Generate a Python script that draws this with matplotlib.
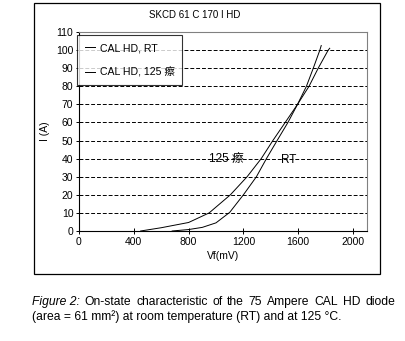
import matplotlib
matplotlib.use("Agg")
import matplotlib.pyplot as plt
from matplotlib.patches import Rectangle

plt.rcParams['font.family'] = ['Liberation Sans', 'Noto Sans CJK SC']

# on-state curves
vf_rt = [680, 800, 900, 1000, 1100, 1200, 1295, 1368, 1446, 1525, 1595, 1660, 1710, 1758, 1768]
i_rt = [0, 0.8, 2, 4.5, 10.3, 20, 30, 40, 50, 60, 70, 80, 90, 100, 102.5]

vf_125 = [450, 600, 800, 950, 1105, 1227, 1330, 1415, 1505, 1595, 1679, 1746, 1819, 1830]
i_125 = [0, 1.8, 4.7, 10, 20, 30, 40, 50, 60, 70, 80, 90, 100, 101]

x_ticks = [0, 400, 800, 1200, 1600, 2000]
y_ticks = list(range(0, 111, 10))

caption1 = ['On-state', 'characteristic', 'of', 'the', '75', 'Ampere', 'CAL', 'HD', 'diode']
caption2 = '(area = 61 mm²) at room temperature (RT) and at 125 °C.'

fig = plt.figure(figsize=(4.05, 3.41), dpi=100)
fig.patch.set_facecolor('white')

# outer chart frame
fig.patches.append(Rectangle((0.084, 0.196), 0.854, 0.795, transform=fig.transFigure,
                             fill=False, edgecolor='black', linewidth=0.9))

ax = fig.add_axes([0.195, 0.3226, 0.7105, 0.5836])
ax.plot(vf_rt, i_rt, color='black', lw=0.7, label='CAL HD, RT')
ax.plot(vf_125, i_125, color='black', lw=0.7, label='CAL HD, 125 瘵')

for y in y_ticks[1:-1]:
    ax.axhline(y, color='black', lw=0.7, linestyle=(0, (4, 2)), zorder=0)

ax.set_xlim(0, 2100)
ax.set_ylim(0, 110)
ax.set_xticks(x_ticks)
ax.set_yticks(y_ticks)
ax.tick_params(direction='inout', length=4, width=0.7, labelsize=7.5, pad=2)
for s in ['top', 'right']:
    ax.spines[s].set_color('#808080')
for s in ['left', 'bottom']:
    ax.spines[s].set_color('black')
    ax.spines[s].set_linewidth(0.8)

ax.set_xlabel('Vf(mV)', fontsize=7.5, labelpad=3)
ax.set_ylabel('I (A)', fontsize=7.5, labelpad=4)

ax.text(949, 40, '125 瘵', fontsize=8.5, va='center', ha='left')
ax.text(1478, 39, 'RT', fontsize=8.5, va='center', ha='left')

leg = ax.legend(loc='upper left', bbox_to_anchor=(0.19, 0.897), bbox_transform=fig.transFigure,
                fontsize=7.6, frameon=True, fancybox=False, edgecolor='black',
                handlelength=1.0, handletextpad=0.4, labelspacing=1.3,
                borderpad=0.75, borderaxespad=0)
leg.get_frame().set_linewidth(0.8)

fig.text(0.48, 0.956, 'SKCD 61 C 170 I HD', fontsize=7, ha='center', va='center')

# caption, first line justified between x=32 px and x=395 px
fs = 8.7
r = fig.canvas.get_renderer()
left, right = 32, 395
y1 = 1 - 302 / 341
words = [('Figure 2:', 'italic')] + [(w, 'normal') for w in caption1]
texts = [fig.text(0, y1, w, fontsize=fs, style=st, ha='left', va='center') for w, st in words]
widths = [t.get_window_extent(r).width for t in texts]
gap = (right - left - sum(widths)) / (len(texts) - 1)
x = left
for t, w in zip(texts, widths):
    t.set_x(x / 405)
    x += w + gap
fig.text(left / 405, 1 - 317 / 341, caption2, fontsize=fs, ha='left', va='center')

fig.savefig('out.png', dpi=100)
